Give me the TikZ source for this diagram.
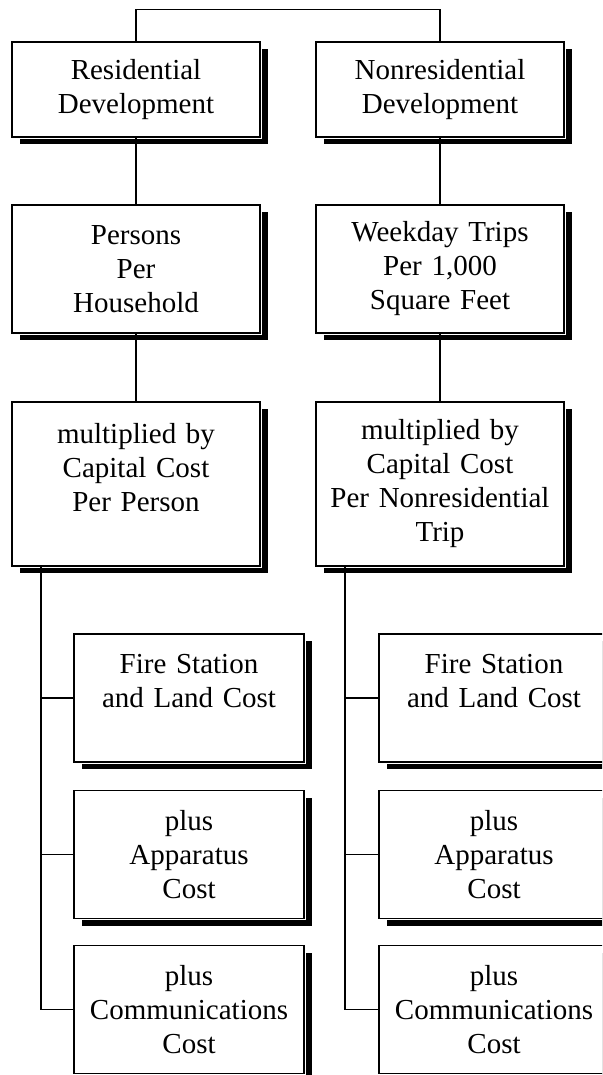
\documentclass[tikz,border=0pt]{standalone}
\usepackage{fontspec}
\setmainfont{Liberation Serif}
\usetikzlibrary{shadows}
\begin{document}
\begin{tikzpicture}[x=1pt,y=-1pt,
  box/.style={rectangle, draw=black, line width=1.4pt, fill=white, inner sep=0pt,
    align=center, font=\fontsize{29}{34}\selectfont,
    general shadow={fill=black, shadow xshift=7.5pt, shadow yshift=-7pt},
    preaction={draw=white, line width=3.6pt}},
  upper/.style={box, text width=240pt, minimum width=248pt},
  lower/.style={box, text width=224pt, minimum width=230pt, minimum height=128pt},
  link/.style={draw=black, line width=1.4pt}]
\useasboundingbox (0,0) rectangle (602,1075);
\clip (0,0) rectangle (602,1075);

% residential column
\node[upper, minimum height=95pt]  (res)   at (136,89.5) {Residential\\Development};
\node[upper, minimum height=128pt] (pers)  at (136,269)  {Persons\\Per\\Household};
\node[upper, minimum height=164pt] (lmul)  at (136,484)  {multiplied by\\Capital Cost\\Per Person\\\mbox{}};
\node[lower] (lfire) at (189,698)    {Fire Station\\and Land Cost\\\mbox{}};
\node[lower] (lapp)  at (189,854.5)  {plus\\Apparatus\\Cost};
\node[lower] (lcomm) at (189,1009.5) {plus\\Communications\\Cost};

% nonresidential column
\node[upper, minimum height=95pt]  (nres)  at (440,89.5) {Nonresidential\\Development};
\node[upper, minimum height=128pt] (week)  at (440,269)  {Weekday Trips\\Per 1,000\\Square Feet};
\node[upper, minimum height=164pt] (rmul)  at (440,484)  {multiplied by\\Capital Cost\\Per Nonresidential\\Trip};
\node[lower] (rfire) at (494,698)    {Fire Station\\and Land Cost\\\mbox{}};
\node[lower] (rapp)  at (494,854.5)  {plus\\Apparatus\\Cost};
\node[lower] (rcomm) at (494,1009.5) {plus\\Communications\\Cost};

% connectors
\draw[link] (res.north) -- ++(0,-32) -| (nres.north);
\draw[link] (res.south) -- (pers.north);
\draw[link] (pers.south) -- (lmul.north);
\draw[link] (nres.south) -- (week.north);
\draw[link] (week.south) -- (rmul.north);

\coordinate (lt) at (41,566);
\coordinate (rt) at (345,566);
\draw[link] (lt) |- (lcomm.west);
\draw[link] (lt |- lfire.west) -- (lfire.west);
\draw[link] (lt |- lapp.west) -- (lapp.west);
\draw[link] (rt) |- (rcomm.west);
\draw[link] (rt |- rfire.west) -- (rfire.west);
\draw[link] (rt |- rapp.west) -- (rapp.west);
\end{tikzpicture}
\end{document}
